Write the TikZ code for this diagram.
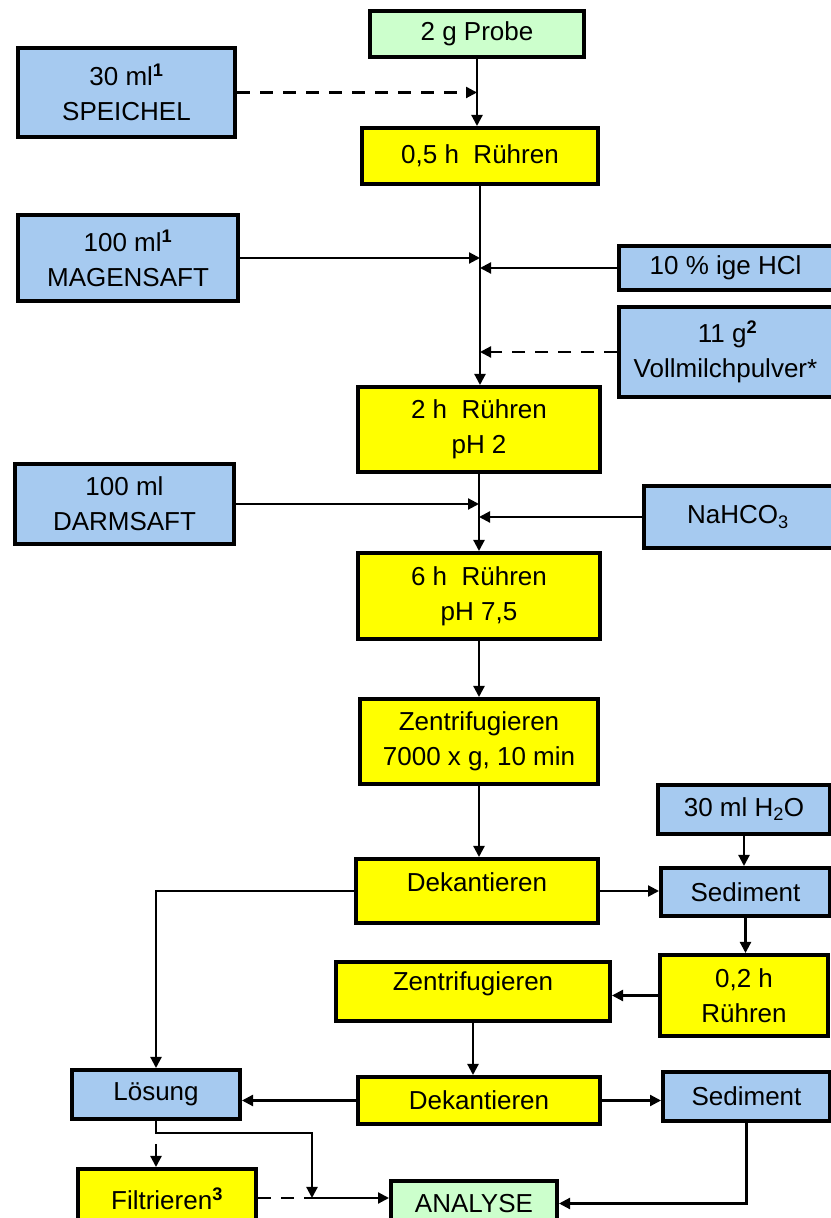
\documentclass[tikz,border=0pt]{standalone}
\usepackage{fontspec}
\setmainfont{Liberation Sans}
\usepackage{xcolor}
\usetikzlibrary{arrows.meta}
\definecolor{ink}{HTML}{000000}
\definecolor{skyA}{HTML}{A6CAF0}
\definecolor{yellowA}{HTML}{FFFF00}
\definecolor{mintA}{HTML}{CCFFCC}
\tikzset{
  box/.style={draw=ink, line width=4pt, inner sep=0pt, align=center, anchor=north west, font=\boxfont, text=ink},
  bluebox/.style={box, fill=skyA},
  yellowbox/.style={box, fill=yellowA},
  greenbox/.style={box, fill=mintA},
  flow/.style={draw=ink, line width=2.2pt, -{Triangle[length=11pt,width=11pt]}},
  dashflow/.style={flow, dash pattern=on 13pt off 10pt},
  dashline/.style={draw=ink, line width=2.2pt, dash pattern=on 13pt off 10pt}
}
\newcommand{\boxfont}{\fontsize{26}{35}\selectfont}
\newcommand{\fn}[1]{\textsuperscript{\bfseries #1}}

\begin{document}
\begin{tikzpicture}[x=1pt,y=1pt]
\useasboundingbox (0,0) rectangle (830,1218);

\node[greenbox, minimum width=214pt, minimum height=46pt] (probe) at (368,1209) {2 g Probe};
\node[bluebox, minimum width=217pt, minimum height=89pt] (speichel) at (16,1172) {30 ml\fn{1}\\SPEICHEL};
\node[yellowbox, minimum width=236pt, minimum height=56pt] (ruehrenA) at (360,1092) {0,5 h~~Rühren};
\node[bluebox, minimum width=220pt, minimum height=86pt] (magen) at (16,1005) {100 ml\fn{1}\\MAGENSAFT};
\node[bluebox, minimum width=217pt, minimum height=44pt] (hcl) at (617,974) {10 \% ige HCl\hspace*{4pt}};
\node[bluebox, minimum width=217pt, minimum height=90pt] (milch) at (617,913) {11 g\fn{2}\\Vollmilchpulver*\hspace*{4pt}};
\node[yellowbox, minimum width=242pt, minimum height=85pt] (ruehrenB) at (356,833) {2 h~~Rühren\\pH 2};
\node[bluebox, minimum width=219pt, minimum height=80pt] (darm) at (13,756) {100 ml\\DARMSAFT};
\node[bluebox, minimum width=192pt, minimum height=62pt] (natron) at (642,734) {NaHCO\textsubscript{3}\hspace*{4pt}};
\node[yellowbox, minimum width=242pt, minimum height=86pt] (ruehrenC) at (356,667) {6 h~~Rühren\\pH 7,5};
\node[yellowbox, minimum width=238pt, minimum height=85pt] (zentriA) at (358,521) {Zentrifugieren\\7000 x g, 10 min};
\node[bluebox, minimum width=172pt, minimum height=49pt] (wasser) at (656,435) {30 ml H\textsubscript{2}O};
\node[yellowbox, minimum width=242pt, minimum height=64pt, text depth=18pt] (dekantA) at (354,361) {Dekantieren};
\node[bluebox, minimum width=169pt, minimum height=48pt] (sedA) at (659,352) {Sediment};
\node[yellowbox, minimum width=168pt, minimum height=81pt] (ruehrenD) at (658,265) {0,2 h\\Rühren};
\node[yellowbox, minimum width=274pt, minimum height=59pt, text depth=20pt] (zentriB) at (334,258) {Zentrifugieren};
\node[bluebox, minimum width=168pt, minimum height=49pt] (loesung) at (70,150) {Lösung};
\node[yellowbox, minimum width=242pt, minimum height=47pt] (dekantB) at (356,143) {Dekantieren};
\node[bluebox, minimum width=167pt, minimum height=49pt] (sedB) at (661,148) {Sediment};
\node[yellowbox, minimum width=178pt, minimum height=60pt] (filter) at (76,51) {Filtrieren\fn{3}};
\node[greenbox, minimum width=166pt, minimum height=45pt] (analyse) at (389,39) {ANALYSE};

\coordinate (split) at (155,85);
\coordinate (merge) at (312,20);

\draw[flow] (probe.south) -- (probe.south |- ruehrenA.north);
\draw[dashflow] (speichel.east) -- (speichel.east -| probe.south);
\draw[flow] (ruehrenA.south) -- (ruehrenA.south |- ruehrenB.north);
\draw[flow] (magen.east) -- (magen.east -| ruehrenA.south);
\draw[flow] (hcl.west) -- (hcl.west -| ruehrenA.south);
\draw[dashflow] (milch.west) -- (milch.west -| ruehrenA.south);
\draw[flow] (ruehrenB.south) -- (ruehrenB.south |- ruehrenC.north);
\draw[flow] (darm.east) -- (darm.east -| ruehrenB.south);
\draw[flow] (natron.west) -- (natron.west -| ruehrenB.south);
\draw[flow] (ruehrenC.south) -- (ruehrenC.south |- zentriA.north);
\draw[flow] (zentriA.south) -- (zentriA.south |- dekantA.north);
\draw[flow] (wasser.south) -- (wasser.south |- sedA.north);
\draw[flow] (dekantA.east) -- (dekantA.east -| sedA.west);
\draw[flow] (dekantA.west) -| (loesung.north);
\draw[flow] (sedA.south) -- (sedA.south |- ruehrenD.north);
\draw[flow] (ruehrenD.west) -- (ruehrenD.west -| zentriB.east);
\draw[flow] (zentriB.south) -- (zentriB.south |- dekantB.north);
\draw[flow] (dekantB.west) -- (dekantB.west -| loesung.east);
\draw[flow] (dekantB.east) -- (dekantB.east -| sedB.west);
\draw[dashflow] (loesung.south) -- (loesung.south |- filter.north);
\draw[flow] (split) -| (merge);
\draw[dashline] (filter.east |- merge) -- (merge);
\draw[flow] (merge) -- (merge -| analyse.west);
\draw[flow] (sedB.south) |- (analyse.east);

\end{tikzpicture}
\end{document}
